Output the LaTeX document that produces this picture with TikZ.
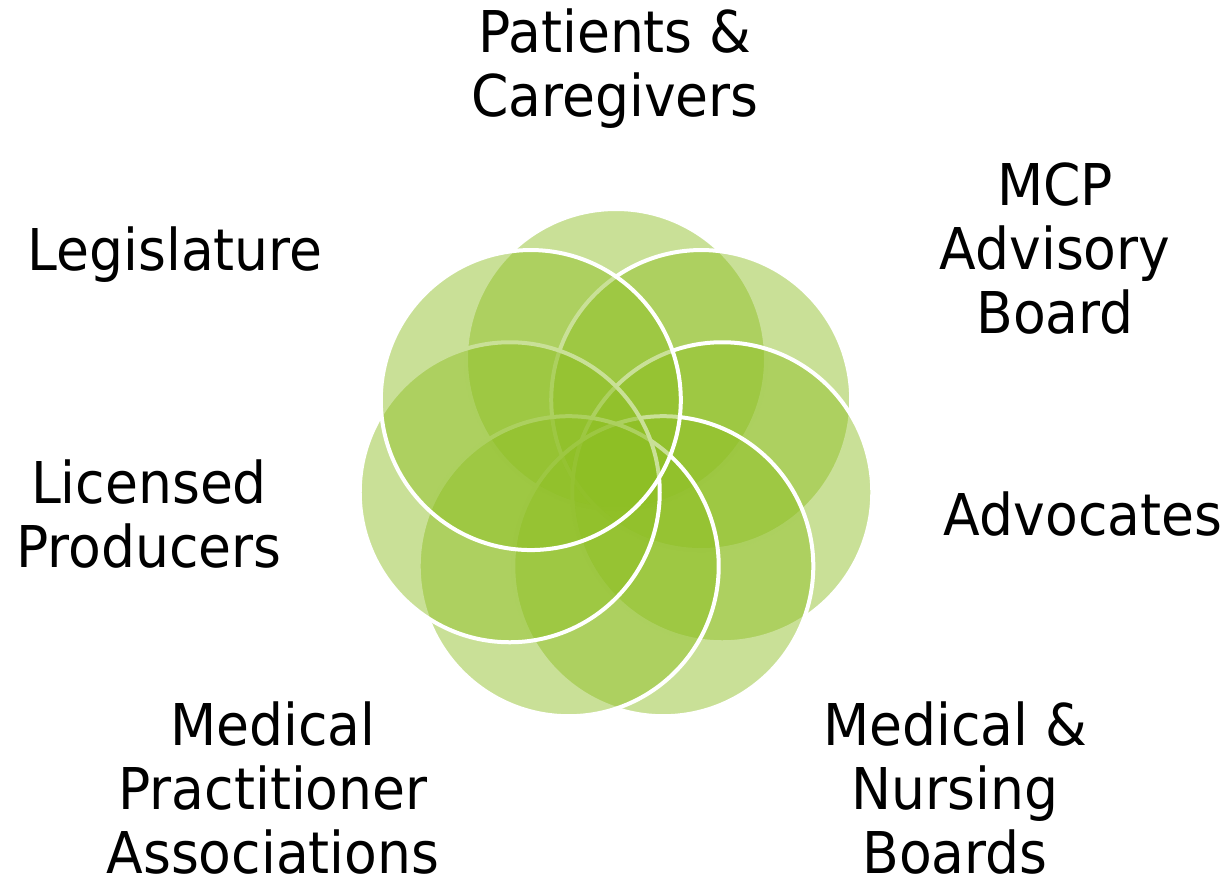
\documentclass[tikz,border=0pt]{standalone}
\usepackage{fontspec}
\setmainfont{DejaVu Sans}[FakeStretch=0.93]
\definecolor{leaf}{RGB}{141,190,34}

\begin{document}
\begin{tikzpicture}
      [%%%%%%%%%%%%%%%%%%%%%%%%%%%%%%
      x=0.5pt, y=-0.5pt,
      petal/.style={circle, fill=leaf, fill opacity=0.47, draw=white, draw opacity=1,
                    line width=2pt, minimum size=150pt, inner sep=0pt},
      label/.style={align=center, anchor=base, text=black, text depth=0pt,
                    inner sep=1pt, font=\fontsize{28.8}{32pt}\selectfont},
      ]%%%%%%%%%%%%%%%%%%%%%%%%%%%%%%
      \useasboundingbox (0,0) rectangle (1229,888);

      % seven petals round the centre, clockwise from the top
      \foreach \i in {1,...,7}{
        \pgfmathsetmacro{\ang}{90-(\i-1)*360/7}
        \node[petal] (c\i) at ({616+109*cos(\ang)},{468-109*sin(\ang)}){};
      }

      % labels (anchored at the last line's baseline)
      \node[label] (patients)  at (615,116) {Patients \&\\Caregivers};
      \node[label] (mcp)       at (1055,333) {MCP\\Advisory\\Board};
      \node[label] (advocates) at (1083,535) {Advocates};
      \node[label] (boards)    at (955,873) {Medical \&\\Nursing\\Boards};
      \node[label] (assoc)     at (273,873) {Medical\\Practitioner\\Associations};
      \node[label] (producers) at (149,567) {Licensed\\Producers};
      \node[label] (legis)     at (175,270) {Legislature};
    \end{tikzpicture}
\end{document}
